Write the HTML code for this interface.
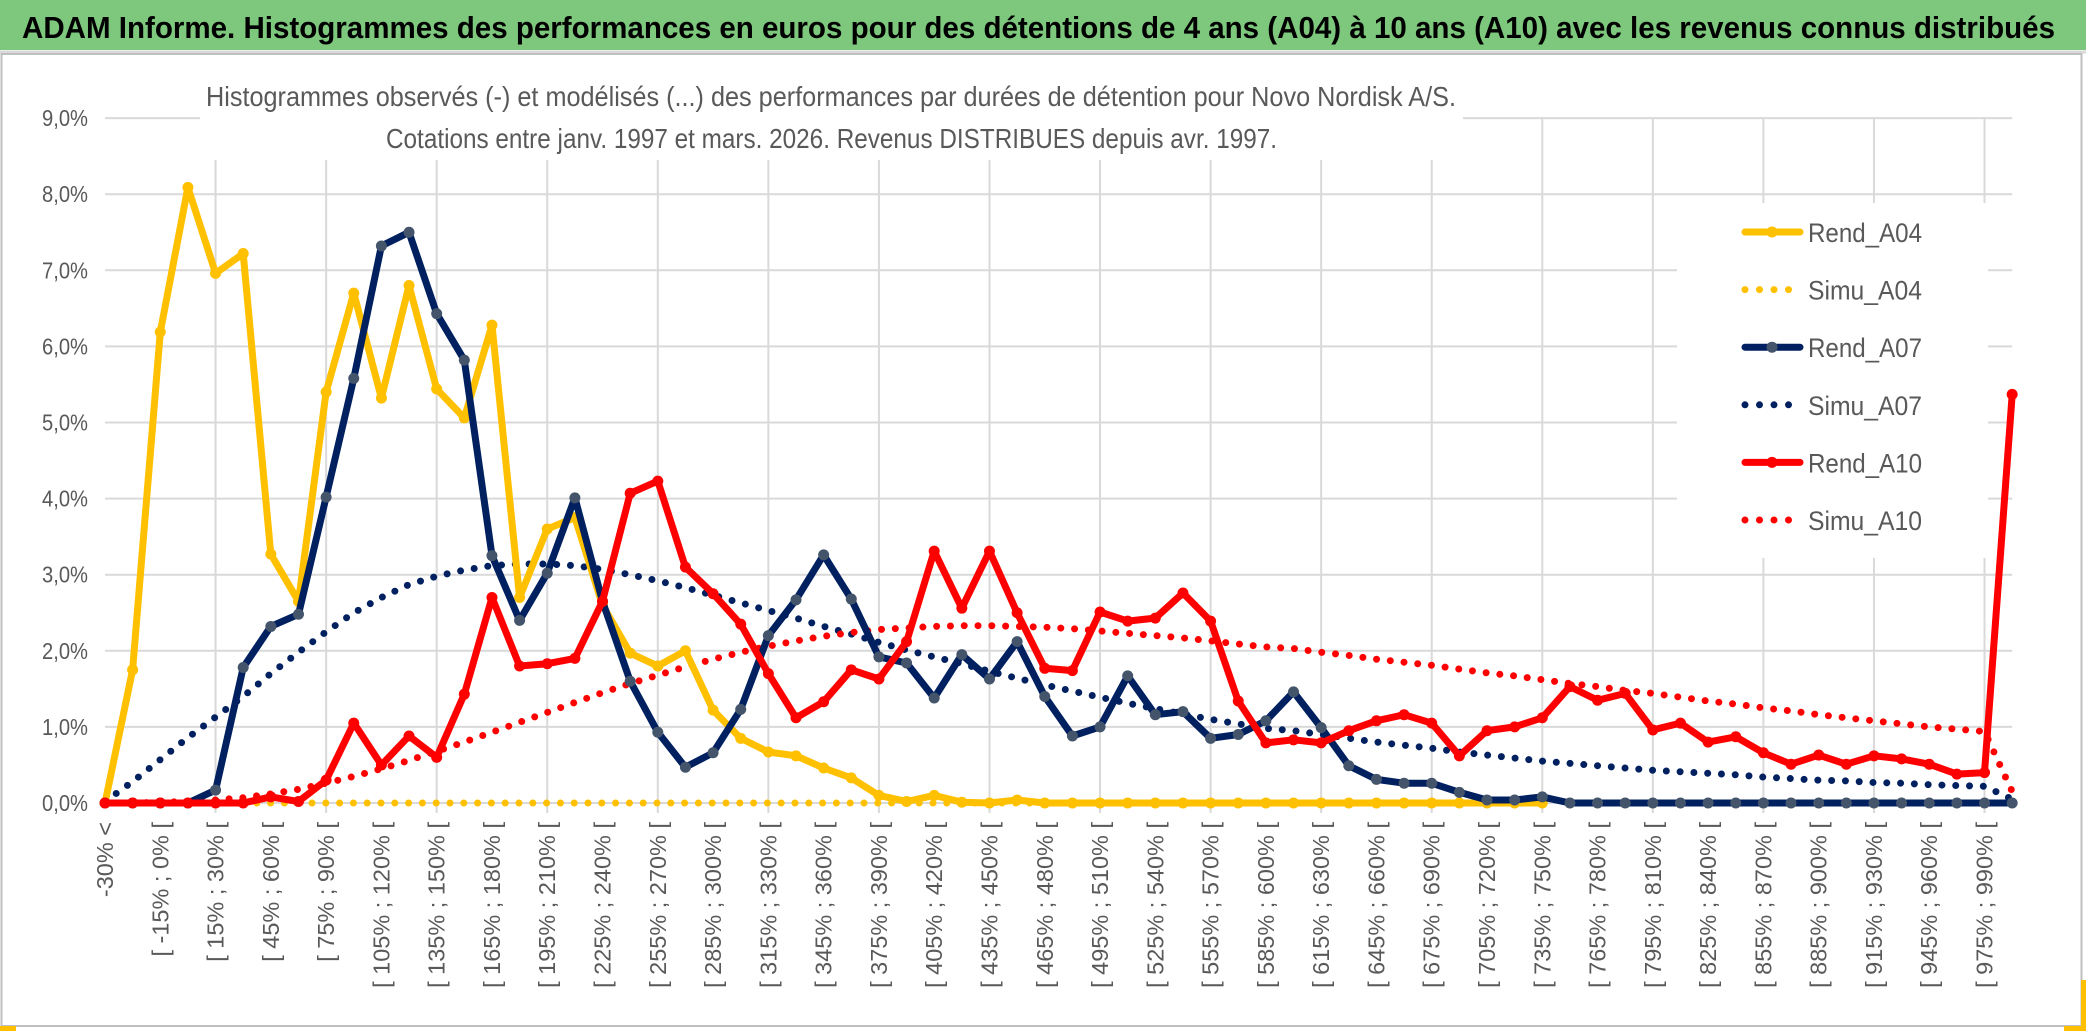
<!DOCTYPE html>
<html><head><meta charset="utf-8"><style>
html,body{margin:0;padding:0;background:#fff}
svg{display:block}
text{font-family:"Liberation Sans",sans-serif}
</style></head><body>
<svg id="chart" width="2086" height="1031" viewBox="0 0 2086 1031" xmlns="http://www.w3.org/2000/svg">
<rect x="0" y="0" width="2086" height="1031" fill="#fff"/>
<rect x="0" y="0" width="2086" height="50" fill="#7ec87e"/>
<line x1="0" y1="52" x2="2086" y2="52" stroke="#d9d9d9" stroke-width="3"/>
<text x="22" y="38" font-size="31" font-weight="bold" fill="#000" textLength="2033" lengthAdjust="spacingAndGlyphs">ADAM Informe. Histogrammes des performances en euros pour des détentions de 4 ans (A04) à 10 ans (A10) avec les revenus connus distribués</text>
<rect x="1.5" y="54" width="2080" height="972" fill="none" stroke="#bfbfbf" stroke-width="2"/>
<rect x="0" y="1026" width="16" height="5" fill="#ffc000"/>
<rect x="2064" y="1026" width="22" height="5" fill="#ffc000"/>
<rect x="2081" y="980" width="5" height="50" fill="#ffc000"/>
<g id="grid"></g>
<g id="ylabels"></g>
<g id="xlabels"></g>
<rect x="200" y="62" width="1263" height="98" fill="#fff"/>
<text x="206" y="106" font-size="28" fill="#595959" textLength="1250" lengthAdjust="spacingAndGlyphs">Histogrammes observés (-) et modélisés (...) des performances par durées de détention pour Novo Nordisk A/S.</text>
<text x="386" y="148" font-size="28" fill="#595959" textLength="891" lengthAdjust="spacingAndGlyphs">Cotations entre janv. 1997 et mars. 2026. Revenus DISTRIBUES depuis avr. 1997.</text>
<g id="series"></g>
<rect x="1677" y="203" width="311" height="355" fill="#fff"/>
<g id="legend"></g>
</svg>
<script>
const tickLabels = ["-30% <","[ -15% ; 0% [","[ 15% ; 30% [","[ 45% ; 60% [","[ 75% ; 90% [","[ 105% ; 120% [","[ 135% ; 150% [","[ 165% ; 180% [","[ 195% ; 210% [","[ 225% ; 240% [","[ 255% ; 270% [","[ 285% ; 300% [","[ 315% ; 330% [","[ 345% ; 360% [","[ 375% ; 390% [","[ 405% ; 420% [","[ 435% ; 450% [","[ 465% ; 480% [","[ 495% ; 510% [","[ 525% ; 540% [","[ 555% ; 570% [","[ 585% ; 600% [","[ 615% ; 630% [","[ 645% ; 660% [","[ 675% ; 690% [","[ 705% ; 720% [","[ 735% ; 750% [","[ 765% ; 780% [","[ 795% ; 810% [","[ 825% ; 840% [","[ 855% ; 870% [","[ 885% ; 900% [","[ 915% ; 930% [","[ 945% ; 960% [","[ 975% ; 990% ["];
const yTicks = [0,1,2,3,4,5,6,7,8,9];
const yTickLabels = ["0,0%","1,0%","2,0%","3,0%","4,0%","5,0%","6,0%","7,0%","8,0%","9,0%"];
const nCategories = 70;
const rendA04 = [0,1.75,6.19,8.09,6.96,7.22,3.27,2.65,5.4,6.7,5.32,6.8,5.44,5.06,6.28,2.7,3.6,3.75,2.6,1.97,1.8,2.0,1.22,0.85,0.67,0.62,0.46,0.33,0.1,0.02,0.1,0.01,0,0.04,0,0,0,0,0,0,0,0,0,0,0,0,0,0,0,0,0,0,0];
const simuA04 = [0,0,0,0,0,0,0,0,0,0,0,0,0,0,0,0,0,0,0,0,0,0,0,0,0,0,0,0,0,0,0,0,0,0,0,0,0,0,0,0,0,0,0,0,0,0,0,0,0,0,0,0,0];
const rendA07 = [0,0,0,0,0.17,1.78,2.32,2.48,4.02,5.58,7.32,7.5,6.43,5.82,3.25,2.4,3.02,4.01,2.65,1.6,0.93,0.47,0.66,1.23,2.2,2.67,3.26,2.68,1.92,1.84,1.38,1.95,1.63,2.12,1.4,0.88,1.0,1.67,1.16,1.2,0.85,0.9,1.08,1.46,0.99,0.49,0.31,0.26,0.26,0.14,0.04,0.04,0.08,0,0,0,0,0,0,0,0,0,0,0,0,0,0,0,0,0];
const simuA07 = [0.02,0.28,0.57,0.86,1.13,1.4,1.7,1.98,2.25,2.5,2.7,2.87,2.98,3.06,3.12,3.14,3.14,3.12,3.07,3.0,2.92,2.83,2.73,2.63,2.53,2.43,2.32,2.22,2.11,2.01,1.92,1.83,1.73,1.64,1.55,1.47,1.39,1.31,1.24,1.17,1.1,1.04,0.98,0.95,0.9,0.85,0.8,0.76,0.72,0.67,0.63,0.59,0.55,0.52,0.49,0.46,0.43,0.41,0.39,0.37,0.34,0.32,0.3,0.29,0.27,0.26,0.24,0.23,0.22,0.05];
const rendA10 = [0,0,0,0,0,0,0.08,0.02,0.3,1.05,0.5,0.88,0.6,1.43,2.7,1.8,1.83,1.9,2.65,4.07,4.23,3.1,2.75,2.35,1.7,1.12,1.33,1.75,1.63,2.12,3.31,2.56,3.31,2.5,1.77,1.74,2.51,2.39,2.43,2.76,2.39,1.34,0.79,0.83,0.79,0.95,1.08,1.16,1.05,0.62,0.95,1.0,1.12,1.53,1.35,1.44,0.96,1.05,0.8,0.87,0.66,0.51,0.63,0.51,0.62,0.58,0.51,0.38,0.4,5.37];
const simuA10 = [0,0,0.01,0.02,0.04,0.07,0.12,0.18,0.26,0.35,0.45,0.56,0.68,0.8,0.93,1.06,1.19,1.32,1.45,1.57,1.68,1.79,1.89,1.98,2.06,2.13,2.19,2.24,2.28,2.3,2.32,2.33,2.33,2.32,2.31,2.29,2.26,2.23,2.2,2.17,2.13,2.09,2.05,2.03,1.98,1.94,1.89,1.85,1.81,1.76,1.71,1.67,1.62,1.57,1.53,1.48,1.44,1.39,1.34,1.3,1.25,1.21,1.16,1.12,1.08,1.04,1.0,0.97,0.94,0.15];

const NS = "http://www.w3.org/2000/svg";
const X0 = 105, XSTEP = 27.64, Y0 = 803, YUNIT = 76.1;
function xScale(i){ return X0 + i * XSTEP; }
function yScale(v){ return Y0 - v * YUNIT; }
function mk(tag, parent){ const e = document.createElementNS(NS, tag); parent.appendChild(e); return e; }

const grid = document.getElementById('grid');
yTicks.forEach(function(t){
  const l = mk('line', grid);
  
  
  l.setAttribute('x1', xScale(0)); l.setAttribute('x2', xScale(nCategories - 1));
  l.setAttribute('y1', yScale(t)); l.setAttribute('y2', yScale(t));
  l.setAttribute('stroke', '#d9d9d9'); l.setAttribute('stroke-width', '2');
});
for (let i = 4; i < nCategories; i += 4) {
  const l = mk('line', grid);
  
  
  l.setAttribute('x1', xScale(i)); l.setAttribute('x2', xScale(i));
  l.setAttribute('y1', yScale(9)); l.setAttribute('y2', yScale(0) + 10);
  l.setAttribute('stroke', '#d9d9d9'); l.setAttribute('stroke-width', '2');
}
const yl = document.getElementById('ylabels');
yTicks.forEach(function(t, k){
  const tx = mk('text', yl);
  
  
  tx.setAttribute('x', 88); tx.setAttribute('y', yScale(t) + 8);
  tx.setAttribute('text-anchor', 'end'); tx.setAttribute('font-size', '23');
  tx.setAttribute('fill', '#595959');
  tx.setAttribute('textLength', '46'); tx.setAttribute('lengthAdjust', 'spacingAndGlyphs');
  tx.textContent = yTickLabels[k];
});
const xl = document.getElementById('xlabels');
tickLabels.forEach(function(s, k){
  const x = xScale(k * 2) + 8, y = 822;
  const tx = mk('text', xl);
  
  
  tx.setAttribute('x', x); tx.setAttribute('y', y);
  tx.setAttribute('transform', 'rotate(-90 ' + x + ' ' + y + ')');
  tx.setAttribute('text-anchor', 'end'); tx.setAttribute('font-size', '23.5');
  tx.setAttribute('fill', '#595959');
  tx.textContent = s;
});

const series = document.getElementById('series');
function pts(arr){ return arr.map(function(v, i){ return xScale(i).toFixed(1) + ',' + yScale(v).toFixed(1); }).join(' '); }
function dotted(arr, color, name){
  const p = mk('polyline', series);
  
  
  p.setAttribute('points', pts(arr)); p.setAttribute('fill', 'none');
  p.setAttribute('stroke', color); p.setAttribute('stroke-width', '7');
  p.setAttribute('stroke-linecap', 'round'); p.setAttribute('stroke-dasharray', '0 13.8');
}
function solid(arr, color, mcolor, name){
  const g = mk('g', series);
  
  
  const p = mk('polyline', g);
  
  
  p.setAttribute('points', pts(arr)); p.setAttribute('fill', 'none');
  p.setAttribute('stroke', color); p.setAttribute('stroke-width', '7');
  p.setAttribute('stroke-linejoin', 'round');
  arr.forEach(function(v, i){
    const c = mk('circle', g);
    
    
    c.setAttribute('cx', xScale(i)); c.setAttribute('cy', yScale(v));
    c.setAttribute('r', '5.5'); c.setAttribute('fill', mcolor);
  });
}
dotted(simuA04, '#ffc000', 'simu-a04');
dotted(simuA07, '#002060', 'simu-a07');
dotted(simuA10, '#ff0000', 'simu-a10');
solid(rendA04, '#ffc000', '#ffc000', 'rend-a04');
solid(rendA07, '#002060', '#44546a', 'rend-a07');
solid(rendA10, '#ff0000', '#ff0000', 'rend-a10');

const legendNames = ["Rend_A04","Simu_A04","Rend_A07","Simu_A07","Rend_A10","Simu_A10"];
const legendColors = ["#ffc000","#ffc000","#002060","#002060","#ff0000","#ff0000"];
const legendMarker = ["#ffc000","","#44546a","","#ff0000",""];
const legend = document.getElementById('legend');
legendNames.forEach(function(n, k){
  const y = 232 + k * 57.6;
  const g = mk('g', legend);
  
  
  const l = mk('line', g);
  l.setAttribute('x1', 1745); l.setAttribute('x2', k % 2 === 0 ? 1800 : 1795);
  l.setAttribute('y1', y); l.setAttribute('y2', y);
  l.setAttribute('stroke', legendColors[k]); l.setAttribute('stroke-width', '7');
  l.setAttribute('stroke-linecap', 'round');
  if (k % 2 === 1) l.setAttribute('stroke-dasharray', '0 14.5');
  if (legendMarker[k]) {
    const c = mk('circle', g);
    c.setAttribute('cx', 1772); c.setAttribute('cy', y); c.setAttribute('r', '5.5');
    c.setAttribute('fill', legendMarker[k]);
  }
  const t = mk('text', g);
  t.setAttribute('x', 1808); t.setAttribute('y', y + 10);
  t.setAttribute('font-size', '27'); t.setAttribute('fill', '#595959');
  t.setAttribute('textLength', '114'); t.setAttribute('lengthAdjust', 'spacingAndGlyphs');
  t.textContent = n;
});
</script>
</body></html>
